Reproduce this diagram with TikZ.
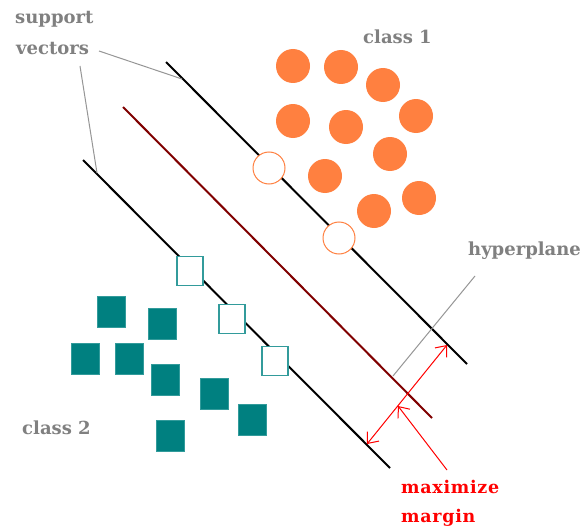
\documentclass[tikz,border=0pt]{standalone}
\usepackage{fontspec}
\setmainfont{DejaVu Serif}
\usetikzlibrary{arrows.meta}
\definecolor{orng}{RGB}{255,128,64}
\definecolor{tealc}{RGB}{0,128,128}
\definecolor{tealedge}{RGB}{50,155,155}
\definecolor{darkred}{RGB}{128,0,0}
\definecolor{lblgray}{RGB}{128,128,128}
\definecolor{ptrgray}{RGB}{150,150,150}
\begin{document}
\begin{tikzpicture}[x=1pt,y=-1pt,
  lbl/.style={font=\fontsize{18}{22}\selectfont\bfseries, text=lblgray, anchor=base west, inner sep=0pt},
  redlbl/.style={font=\fontsize{17.5}{21}\selectfont\bfseries\addfontfeature{LetterSpace=4}, text=red, anchor=base west, inner sep=0pt},
  marginline/.style={line width=2pt, black},
  hyperline/.style={line width=2pt, darkred},
  pointer/.style={line width=1pt, ptrgray},
  redptr/.style={line width=1pt, red},
  barb/.tip={Straight Barb[length=9pt,width=15pt,line width=1pt]},
  dotone/.style={circle, fill=orng, minimum size=34pt, inner sep=0pt},
  svone/.style={circle, draw=orng, line width=1pt, fill=white, minimum size=32pt, inner sep=0pt},
  boxtwo/.style={rectangle, fill=tealc, draw=tealedge, line width=0.6pt, minimum width=28pt, minimum height=31pt, inner sep=0pt},
  svtwo/.style={rectangle, draw=tealedge, line width=1.6pt, fill=white, minimum width=26pt, minimum height=29pt, inner sep=0pt}
]
\fill[white] (0,0) rectangle (581,527);
\useasboundingbox (0,0) rectangle (581,527);

% margin boundaries and separating hyperplane
\coordinate (ua) at (166,62);  \coordinate (ub) at (467,364);
\coordinate (ha) at (123,107); \coordinate (hb) at (432,418);
\coordinate (la) at (83,160);  \coordinate (lb) at (390,468);
\draw[marginline] (ua) -- (ub);
\draw[hyperline] (ha) -- (hb);
\draw[marginline] (la) -- (lb);

% class 1 points
\node[dotone] (p1) at (293,66) {};
\node[dotone] (p2) at (341,67) {};
\node[dotone] (p3) at (383,85) {};
\node[dotone] (p4) at (293,121) {};
\node[dotone] (p5) at (346,127) {};
\node[dotone] (p6) at (416,116) {};
\node[dotone] (p7) at (390,154) {};
\node[dotone] (p8) at (325,176) {};
\node[dotone] (p9) at (374,211) {};
\node[dotone] (p10) at (419,198) {};
\node[svone] (s1) at (269,168) {};
\node[svone] (s2) at (339,238) {};

% class 2 points
\node[boxtwo] (q1) at (111,312) {};
\node[boxtwo] (q2) at (162,324) {};
\node[boxtwo] (q3) at (85,359) {};
\node[boxtwo] (q4) at (129,359) {};
\node[boxtwo] (q5) at (165,380) {};
\node[boxtwo] (q6) at (214,394) {};
\node[boxtwo] (q7) at (252,420) {};
\node[boxtwo] (q8) at (170,436) {};
\node[svtwo] (t1) at (190,271) {};
\node[svtwo] (t2) at (232,319) {};
\node[svtwo] (t3) at (275,361) {};

% labels
\node[lbl] (sup) at (15,24) {support};
\node[lbl] (vec) at (16,55) {vectors};
\node[lbl] (cone) at (363,44) {class 1};
\node[lbl] (ctwo) at (22,434) {class 2};
\node[lbl] (hyp) at (468,255) {hyperplane};
\node[redlbl] (maxl) at (401,493) {maximize};
\node[redlbl] (marl) at (401,522) {margin};

% pointers
\coordinate (va) at (99,51);   \coordinate (vb) at (182,79);
\coordinate (vc) at (80,66);   \coordinate (vd) at (97,173);
\coordinate (hp) at (475,276); \coordinate (hq) at (393,376);
\draw[pointer] (va) -- (vb);
\draw[pointer] (vc) -- (vd);
\draw[pointer] (hp) -- (hq);

% margin width
\coordinate (ma) at (367,444); \coordinate (mb) at (447,345);
\coordinate (ms) at (447,470); \coordinate (mp) at (398,406);
\draw[redptr, barb-barb] (ma) -- (mb);
\draw[redptr, -barb] (ms) -- (mp);
\end{tikzpicture}
\end{document}
